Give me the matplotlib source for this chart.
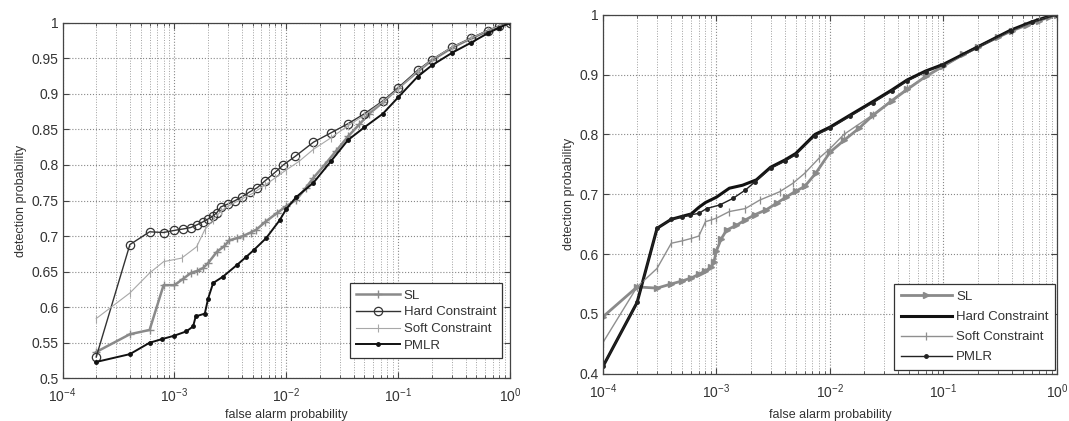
import matplotlib
matplotlib.use("Agg")
import matplotlib.pyplot as plt
from matplotlib.ticker import LogLocator, NullFormatter

plt.rcParams['font.family'] = ['Liberation Sans', 'DejaVu Sans']
plt.rcParams['mathtext.fontset'] = 'custom'
plt.rcParams['mathtext.rm'] = 'Liberation Sans'
plt.rcParams['mathtext.it'] = 'Liberation Sans'

labels = ["SL", "Hard Constraint", "Soft Constraint", "PMLR"]

# ---------------- left panel data ----------------
left_sl_fa = [2e-4, 4e-4, 6e-4, 8e-4, 1e-3, 1.2e-3, 1.4e-3, 1.6e-3, 1.8e-3, 2e-3, 2.4e-3,
              2.8e-3, 3.1e-3, 3.6e-3, 4.1e-3, 4.8e-3, 5.4e-3, 6.5e-3, 8.2e-3, 1e-2, 1.23e-2,
              1.5e-2, 1.75e-2, 2.2e-2, 2.8e-2, 3.56e-2, 4.5e-2, 5.5e-2, 7.3e-2, 0.1, 0.149,
              0.2, 0.306, 0.45, 0.63, 0.8, 1.0]
left_sl_pd = [0.537, 0.562, 0.568, 0.631, 0.631, 0.640, 0.648, 0.651, 0.655, 0.662, 0.678,
              0.686, 0.694, 0.697, 0.700, 0.705, 0.709, 0.720, 0.732, 0.742, 0.751,
              0.768, 0.782, 0.800, 0.820, 0.840, 0.857, 0.872, 0.888, 0.908, 0.931,
              0.947, 0.965, 0.978, 0.988, 0.995, 1.0]

left_hard_fa = [2e-4, 4e-4, 6e-4, 8e-4, 1e-3, 1.2e-3, 1.4e-3, 1.6e-3, 1.8e-3, 2e-3, 2.2e-3,
                2.4e-3, 2.6e-3, 3e-3, 3.5e-3, 4e-3, 4.7e-3, 5.5e-3, 6.5e-3, 8e-3, 9.4e-3,
                1.2e-2, 1.75e-2, 2.5e-2, 3.56e-2, 5e-2, 7.3e-2, 0.1, 0.149, 0.2, 0.306,
                0.45, 0.63, 0.8, 1.0]
left_hard_pd = [0.530, 0.688, 0.706, 0.705, 0.708, 0.710, 0.712, 0.716, 0.720, 0.724, 0.728,
                0.733, 0.741, 0.745, 0.750, 0.755, 0.762, 0.768, 0.778, 0.790, 0.800,
                0.812, 0.832, 0.845, 0.858, 0.872, 0.890, 0.908, 0.933, 0.948, 0.966,
                0.978, 0.989, 0.995, 1.0]

left_soft_fa = [2e-4, 4e-4, 6e-4, 8e-4, 1.16e-3, 1.58e-3, 1.87e-3, 2.2e-3, 2.6e-3, 3e-3, 4e-3,
                5e-3, 6.5e-3, 8e-3, 1e-2, 1.3e-2, 1.75e-2, 2.5e-2, 3.56e-2, 5e-2, 7.3e-2,
                0.1, 0.149, 0.2, 0.306, 0.45, 0.63, 0.8, 1.0]
left_soft_pd = [0.584, 0.620, 0.648, 0.664, 0.669, 0.685, 0.709, 0.722, 0.735, 0.742, 0.752,
                0.760, 0.772, 0.782, 0.793, 0.805, 0.822, 0.838, 0.855, 0.870, 0.889,
                0.907, 0.932, 0.948, 0.966, 0.978, 0.989, 0.995, 1.0]

left_pmlr_fa = [2e-4, 4e-4, 6e-4, 7.7e-4, 1e-3, 1.28e-3, 1.47e-3, 1.55e-3, 1.87e-3, 2e-3,
                2.22e-3, 2.72e-3, 3.6e-3, 4.4e-3, 5.1e-3, 6.6e-3, 8.7e-3, 1e-2, 1.23e-2,
                1.75e-2, 2.5e-2, 3.56e-2, 5e-2, 7.3e-2, 0.1, 0.149, 0.2, 0.306, 0.45,
                0.63, 0.8, 1.0]
left_pmlr_pd = [0.523, 0.534, 0.550, 0.555, 0.560, 0.566, 0.573, 0.587, 0.591, 0.612,
                0.634, 0.643, 0.659, 0.671, 0.680, 0.697, 0.722, 0.738, 0.755,
                0.775, 0.805, 0.835, 0.853, 0.872, 0.895, 0.924, 0.940, 0.958, 0.972,
                0.985, 0.993, 1.0]

# ---------------- right panel data ----------------
right_sl_fa = [1e-4, 2e-4, 3e-4, 4e-4, 5e-4, 6e-4, 7e-4, 8e-4, 9e-4, 9.5e-4, 1e-3, 1.1e-3,
               1.23e-3, 1.5e-3, 1.8e-3, 2.2e-3, 2.75e-3, 3.4e-3, 4.1e-3, 5e-3, 6e-3, 7.5e-3,
               1e-2, 1.33e-2, 1.8e-2, 2.4e-2, 3.5e-2, 4.8e-2, 7e-2, 0.1, 0.15, 0.2, 0.3,
               0.4, 0.55, 0.7, 0.85, 1.0]
right_sl_pd = [0.495, 0.545, 0.543, 0.550, 0.555, 0.560, 0.566, 0.572, 0.578, 0.587, 0.605,
               0.625, 0.640, 0.648, 0.657, 0.666, 0.674, 0.685, 0.695, 0.705, 0.713, 0.735,
               0.770, 0.790, 0.810, 0.832, 0.856, 0.875, 0.897, 0.914, 0.934, 0.946, 0.962,
               0.973, 0.983, 0.990, 0.996, 1.0]

right_hard_fa = [1e-4, 2e-4, 3e-4, 4e-4, 5e-4, 6e-4, 7e-4, 8e-4, 1e-3, 1.3e-3, 1.7e-3,
                 2.25e-3, 3e-3, 4e-3, 5e-3, 7.4e-3, 1e-2, 1.5e-2, 2.4e-2, 3.5e-2, 4.8e-2,
                 7e-2, 0.1, 0.195, 0.39, 0.6, 0.91, 1.0]
right_hard_pd = [0.412, 0.519, 0.643, 0.658, 0.663, 0.667, 0.678, 0.686, 0.695, 0.710, 0.715,
                 0.724, 0.745, 0.757, 0.768, 0.800, 0.812, 0.832, 0.855, 0.874, 0.891,
                 0.906, 0.917, 0.945, 0.974, 0.988, 0.999, 1.0]

right_soft_fa = [1e-4, 2e-4, 3e-4, 4e-4, 5e-4, 6e-4, 7e-4, 8e-4, 9e-4, 1e-3, 1.3e-3, 1.8e-3,
                 2.4e-3, 3.6e-3, 4.7e-3, 6e-3, 8e-3, 1e-2, 1.33e-2, 2.4e-2, 4.8e-2, 0.1,
                 0.2, 0.4, 0.7, 1.0]
right_soft_pd = [0.452, 0.545, 0.576, 0.618, 0.622, 0.626, 0.630, 0.654, 0.657, 0.660, 0.671,
                 0.676, 0.690, 0.704, 0.718, 0.735, 0.760, 0.776, 0.800, 0.833, 0.877, 0.914,
                 0.945, 0.973, 0.991, 1.0]

right_pmlr_fa = [1e-4, 2e-4, 3e-4, 4e-4, 5e-4, 5.8e-4, 7e-4, 8.2e-4, 1.07e-3, 1.4e-3, 1.8e-3,
                 2.2e-3, 3e-3, 4e-3, 5e-3, 7.4e-3, 1e-2, 1.5e-2, 2.4e-2, 3.5e-2, 4.8e-2,
                 7e-2, 0.1, 0.195, 0.39, 0.6, 1.0]
right_pmlr_pd = [0.412, 0.519, 0.643, 0.658, 0.662, 0.665, 0.668, 0.676, 0.682, 0.693, 0.707,
                 0.721, 0.743, 0.755, 0.766, 0.798, 0.810, 0.830, 0.853, 0.872, 0.889,
                 0.905, 0.916, 0.944, 0.973, 0.987, 1.0]

left_yticks = [0.5, 0.55, 0.6, 0.65, 0.7, 0.75, 0.8, 0.85, 0.9, 0.95, 1.0]
left_yticklabels = ["0.5", "0.55", "0.6", "0.65", "0.7", "0.75", "0.8", "0.85", "0.9", "0.95", "1"]
right_yticks = [0.4, 0.5, 0.6, 0.7, 0.8, 0.9, 1.0]
right_yticklabels = ["0.4", "0.5", "0.6", "0.7", "0.8", "0.9", "1"]
xticks = [1e-4, 1e-3, 1e-2, 1e-1, 1e0]
xticklabels = [r"$10^{-4}$", r"$10^{-3}$", r"$10^{-2}$", r"$10^{-1}$", r"$10^{0}$"]

fig = plt.figure(figsize=(10.69, 4.21), dpi=100)
axL = fig.add_axes([0.0585, 0.1014, 0.4186, 0.8447])
axR = fig.add_axes([0.564, 0.1124, 0.4247, 0.8527])

TXT = '#333333'


def style(ax, yticks, ylabels, ylim, xlabelpad):
    ax.set_xscale('log')
    ax.set_xlim(1e-4, 1.0)
    ax.set_ylim(*ylim)
    ax.set_xticks(xticks)
    ax.set_xticklabels(xticklabels)
    ax.xaxis.set_minor_locator(LogLocator(base=10, subs=range(2, 10), numticks=20))
    ax.xaxis.set_minor_formatter(NullFormatter())
    ax.set_yticks(yticks)
    ax.set_yticklabels(ylabels)
    ax.grid(True, which='major', axis='both', linestyle=':', color='#888888', linewidth=0.8)
    ax.grid(True, which='minor', axis='x', linestyle=':', color='#a0a0a0', linewidth=0.7)
    ax.tick_params(which='both', direction='in', top=True, right=True, colors='#444444',
                   labelcolor=TXT, labelsize=10)
    ax.tick_params(axis='x', which='major', pad=6)
    ax.tick_params(axis='y', which='major', pad=3)
    ax.tick_params(which='major', length=4)
    ax.tick_params(which='minor', length=2)
    for s in ax.spines.values():
        s.set_color('#444444')
        s.set_linewidth(0.9)
    ax.set_xlabel("false alarm probability", fontsize=9, color=TXT, labelpad=xlabelpad)
    ax.set_ylabel("detection probability", fontsize=9, color=TXT, labelpad=3)
    ax.set_axisbelow(True)


# left panel
axL.plot(left_sl_fa, left_sl_pd, color='#8a8a8a', lw=1.8, marker='+', ms=6, mew=1.0, label=labels[0])
axL.plot(left_hard_fa, left_hard_pd, color='#333333', lw=1.0, marker='o', ms=6, mfc='none', mew=0.9, label=labels[1])
axL.plot(left_soft_fa, left_soft_pd, color='#a8a8a8', lw=0.8, marker='|', ms=6, mew=0.8, label=labels[2])
axL.plot(left_pmlr_fa, left_pmlr_pd, color='#111111', lw=1.4, marker='.', ms=5, label=labels[3])
style(axL, left_yticks, left_yticklabels, (0.5, 1.0), 3)
legL = axL.legend(loc='lower right', bbox_to_anchor=(0.982, 0.057), borderaxespad=0,
                  fancybox=False, framealpha=1, edgecolor='#333333', fontsize=9.5,
                  handlelength=3.3, labelspacing=0.35, borderpad=0.45, handletextpad=0.3)
legL.get_frame().set_linewidth(0.9)
for t in legL.get_texts():
    t.set_color(TXT)

# right panel
axR.plot(right_sl_fa, right_sl_pd, color='#8a8a8a', lw=2.0, marker='>', ms=4.5, label=labels[0])
axR.plot(right_hard_fa, right_hard_pd, color='#111111', lw=2.2, label=labels[1])
axR.plot(right_soft_fa, right_soft_pd, color='#8f8f8f', lw=1.0, marker='|', ms=6, mew=0.9, label=labels[2])
axR.plot(right_pmlr_fa, right_pmlr_pd, color='#222222', lw=1.0, marker='.', ms=5, label=labels[3])
style(axR, right_yticks, right_yticklabels, (0.4, 1.0), 6)
legR = axR.legend(loc='lower right', bbox_to_anchor=(0.996, 0.01), borderaxespad=0,
                  fancybox=False, framealpha=1, edgecolor='#333333', fontsize=9.5,
                  handlelength=3.9, labelspacing=0.6, borderpad=0.5, handletextpad=0.3)
legR.get_frame().set_linewidth(0.9)
for t in legR.get_texts():
    t.set_color(TXT)

fig.savefig("out.png", dpi=100)
